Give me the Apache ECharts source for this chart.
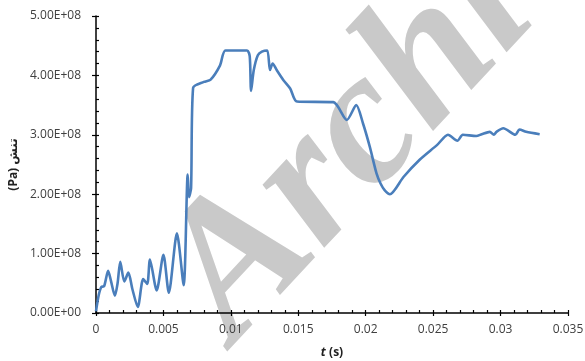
<!DOCTYPE html>
<html>
<head>
<meta charset="utf-8">
<script src="https://cdn.jsdelivr.net/npm/echarts@6/dist/echarts.min.js"></script>
<style>
  html, body { margin: 0; padding: 0; background: #fff; }
  #chart { width: 585px; height: 361px; }
</style>
</head>
<body>
<div id="chart"></div>
<script>
// Time samples (s)
const timeValues = [
  0, 0.0002, 0.0004, 0.0006, 0.0009, 0.0011, 0.0014, 0.0016, 0.0018, 0.0021,
  0.0024, 0.0027, 0.0031, 0.0035, 0.0038, 0.0040, 0.0045, 0.0050, 0.0054, 0.0060,
  0.0065, 0.0068, 0.0069, 0.00705, 0.0072, 0.0080, 0.0085, 0.0092, 0.0096, 0.0112,
  0.0114, 0.0115, 0.0117, 0.0120, 0.0123, 0.0127, 0.0129, 0.0131, 0.0134, 0.0139,
  0.0144, 0.0149, 0.0176, 0.0186, 0.0193, 0.0198, 0.0203, 0.0208, 0.0211, 0.0214,
  0.0218, 0.0228, 0.0240, 0.0253, 0.0261, 0.0268, 0.0272, 0.0282, 0.0286, 0.0292,
  0.0295, 0.0297, 0.0302, 0.0311, 0.0314, 0.0319, 0.0329
];
// Stress (Pa)
const stressValues = [
  0.03e8, 0.30e8, 0.44e8, 0.45e8, 0.71e8, 0.55e8, 0.29e8, 0.50e8, 0.86e8, 0.53e8,
  0.68e8, 0.40e8, 0.10e8, 0.57e8, 0.49e8, 0.90e8, 0.38e8, 0.98e8, 0.34e8, 1.34e8,
  0.47e8, 2.33e8, 1.95e8, 2.10e8, 3.79e8, 3.89e8, 3.93e8, 4.17e8, 4.42e8, 4.42e8,
  4.32e8, 3.74e8, 4.09e8, 4.34e8, 4.40e8, 4.42e8, 4.09e8, 4.20e8, 4.09e8, 3.92e8,
  3.78e8, 3.56e8, 3.55e8, 3.25e8, 3.50e8, 3.19e8, 2.80e8, 2.35e8, 2.18e8, 2.07e8,
  2.00e8, 2.29e8, 2.58e8, 2.83e8, 3.00e8, 2.90e8, 3.00e8, 2.98e8, 3.01e8, 3.05e8,
  3.00e8, 3.05e8, 3.11e8, 3.00e8, 3.09e8, 3.05e8, 3.01e8
];
// Axis tick labels
const xTickLabels = ['0', '0.005', '0.01', '0.015', '0.02', '0.025', '0.03', '0.035'];
const yTickLabels = ['0.00E+00', '1.00E+08', '2.00E+08', '3.00E+08', '4.00E+08', '5.00E+08'];

const points = timeValues.map((t, i) => [t, stressValues[i]]);

const chart = echarts.init(document.getElementById('chart'), null, { renderer: 'canvas' });

const labelFont = { color: '#404040', fontSize: 12, fontFamily: 'Open Sans, Liberation Sans, sans-serif' };
const axisLine = { show: true, onZero: false, lineStyle: { color: '#000', width: 1.5 } };

chart.setOption({
  animation: false,
  backgroundColor: '#fff',
  grid: { left: 96, right: 17, top: 16, bottom: 48, containLabel: false, outerBoundsMode: 'none' },
  xAxis: [
    {
      type: 'value', min: 0, max: 0.035, interval: 0.005,
      axisLine: axisLine,
      axisTick: { show: true, inside: false, length: 3, lineStyle: { color: '#000', width: 1.2 } },
      axisLabel: Object.assign({
        margin: 11,
        formatter: (v) => xTickLabels[Math.round(v / 0.005)]
      }, labelFont),
      splitLine: { show: false },
      name: '{i|t} {n|(s)}',
      nameLocation: 'middle', nameGap: 34,
      nameTextStyle: {
        rich: {
          i: { fontStyle: 'italic', fontWeight: 'bold', fontSize: 12, color: '#222', fontFamily: 'Open Sans, Liberation Sans, sans-serif' },
          n: { fontWeight: 'bold', fontSize: 12, color: '#222', fontFamily: 'Open Sans, Liberation Sans, sans-serif' }
        }
      }
    },
    {
      type: 'value', min: 0, max: 0.035, interval: 0.005, position: 'bottom',
      axisLine: { show: false },
      axisTick: { show: true, inside: true, length: 3, lineStyle: { color: '#000', width: 1.2 } },
      minorTick: { show: true, splitNumber: 5, length: 3, lineStyle: { color: '#000', width: 1.2 } },
      axisLabel: { show: false },
      splitLine: { show: false }
    }
  ],
  yAxis: [
    {
      type: 'value', min: 0, max: 5e8, interval: 1e8,
      axisLine: axisLine,
      axisTick: { show: true, inside: false, length: 4, lineStyle: { color: '#000', width: 1.2 } },
      axisLabel: Object.assign({
        margin: 15,
        formatter: (v) => yTickLabels[Math.round(v / 1e8)]
      }, labelFont),
      splitLine: { show: false },
      name: '(Pa) تنش',
      nameLocation: 'middle', nameGap: 75, nameRotate: 90,
      nameTextStyle: { fontWeight: 'bold', fontSize: 12, color: '#222', fontFamily: 'Noto Sans, DejaVu Sans, sans-serif' }
    },
    {
      type: 'value', min: 0, max: 5e8, interval: 1e8, position: 'left',
      axisLine: { show: false },
      axisTick: { show: true, inside: true, length: 3, lineStyle: { color: '#000', width: 1.2 } },
      minorTick: { show: true, splitNumber: 5, length: 3, lineStyle: { color: '#000', width: 1.2 } },
      axisLabel: { show: false },
      splitLine: { show: false }
    }
  ],
  series: [{
    type: 'line',
    data: points,
    xAxisIndex: 0, yAxisIndex: 0,
    showSymbol: false,
    smooth: 0.25,
    lineStyle: { color: '#4a7ebb', width: 2.6 },
    z: 3
  }],
  graphic: [{
    type: 'text',
    x: 268, y: 376,
    rotation: 47 * Math.PI / 180,
    z: -1,
    style: {
      text: 'Archive',
      fontFamily: 'Liberation Serif, DejaVu Serif, serif',
      fontStyle: 'italic', fontWeight: 'bold', fontSize: 192,
      fill: '#c9c9c9',
      textVerticalAlign: 'bottom', textAlign: 'left'
    }
  }]
});
</script>
</body>
</html>
